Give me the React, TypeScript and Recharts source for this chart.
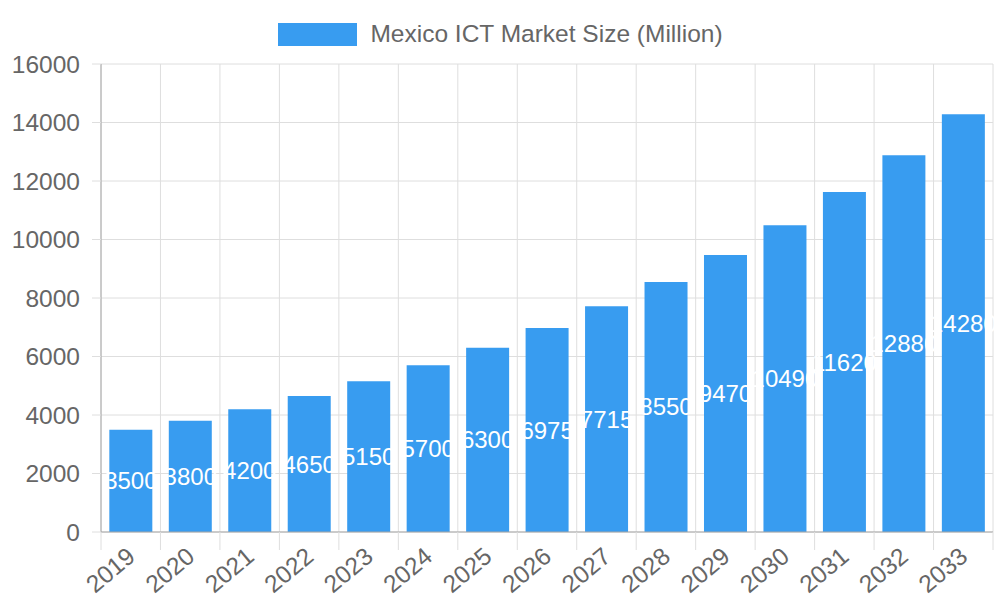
import React from "react";
import { BarChart, Bar, XAxis, YAxis, CartesianGrid, LabelList, Legend } from "recharts";

document.body.style.margin = "0";

const years = ["2019","2020","2021","2022","2023","2024","2025","2026","2027","2028","2029","2030","2031","2032","2033"];
const marketSize = [3500,3800,4200,4650,5150,5700,6300,6975,7715,8550,9470,10490,11620,12880,14280];
const yTicks = [0,2000,4000,6000,8000,10000,12000,14000,16000];

const data = years.map((year, i) => ({ year, value: marketSize[i] }));

const FONT = "'Liberation Sans', Arial, sans-serif";
const GRID = "#dedede";
const TEXT = "#666";
const BLUE = "#389cf0";

const PLOT_LEFT = 101;
const PLOT_RIGHT = 993;
const BAND = (PLOT_RIGHT - PLOT_LEFT) / years.length;

const XTick = (props: any) => {
  const { x, y, payload, index } = props;
  const left = x - BAND / 2;
  return (
    <g>
      <line x1={left} x2={left} y1={y - 8} y2={y + 10} stroke={GRID} />
      {index === years.length - 1 && (
        <line x1={left + BAND} x2={left + BAND} y1={y - 8} y2={y + 10} stroke={GRID} />
      )}
      <text
        x={x + 6}
        y={y + 19}
        transform={`rotate(-40 ${x + 6} ${y + 19})`}
        textAnchor="end"
        fill={TEXT}
        fontSize={24.5}
        fontFamily={FONT}
      >
        {payload.value}
      </text>
    </g>
  );
};

const LegendBox = () => (
  <div style={{ display: "flex", justifyContent: "center", alignItems: "center", fontFamily: FONT, fontSize: 24.5, color: TEXT, paddingLeft: 8 }}>
    <span style={{ display: "inline-block", width: 79, height: 23, background: BLUE, marginRight: 13 }} />
    <span>Mexico ICT Market Size (Million)</span>
  </div>
);

export default function App() {
  const verticalLines = ({ offset }: any) =>
    years.map((_, i) => offset.left + (i * offset.width) / years.length).concat(offset.left + offset.width);

  return (
    <div style={{ width: 1000, height: 600, background: "#fff" }}>
      <BarChart
        width={1000}
        height={600}
        data={data}
        margin={{ top: 20, right: 7, left: 0, bottom: 0 }}
        barCategoryGap="14%"
      >
        <Legend verticalAlign="top" height={44} content={<LegendBox />} />
        <CartesianGrid stroke={GRID} verticalCoordinatesGenerator={verticalLines} />
        <XAxis
          dataKey="year"
          height={68}
          axisLine={{ stroke: "#a6a6a6" }}
          tickLine={false}
          tick={<XTick />}
          interval={0}
        />
        <YAxis
          width={101}
          domain={[0, 16000]}
          ticks={yTicks}
          axisLine={{ stroke: "#a6a6a6" }}
          tickLine={{ stroke: GRID }}
          tickSize={9}
          tickMargin={12}
          tick={{ fill: TEXT, fontSize: 24.5, fontFamily: FONT }}
        />
        <Bar dataKey="value" fill={BLUE} isAnimationActive={false}>
          <LabelList dataKey="value" position="center" fill="#fff" fontSize={24} fontFamily={FONT} />
        </Bar>
      </BarChart>
    </div>
  );
}
